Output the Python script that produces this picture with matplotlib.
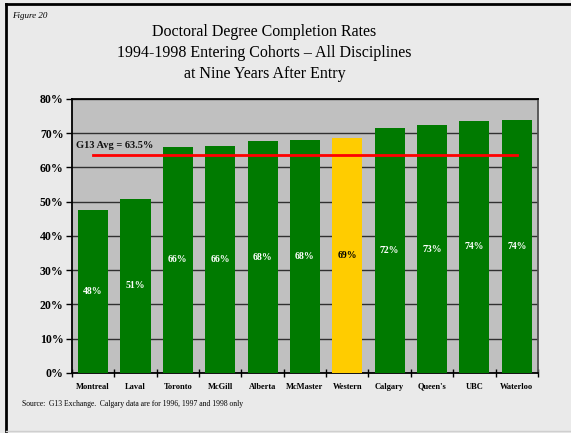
import matplotlib.pyplot as plt
import numpy as np
from matplotlib.lines import Line2D

schools = ['Montreal', 'Laval', 'Toronto', 'McGill', 'Alberta', 'McMaster',
           'Western', 'Calgary', "Queen's", 'UBC', 'Waterloo']
rates = [47.6, 50.8, 66.0, 66.3, 67.7, 68.0, 68.7, 71.5, 72.4, 73.6, 73.9]
labels = ['48%', '51%', '66%', '66%', '68%', '68%', '69%', '72%', '73%', '74%', '74%']
g13_avg = 63.5
highlight = 'Western'

plt.rcParams['font.family'] = ['Liberation Serif', 'DejaVu Serif']

fig = plt.figure(figsize=(5.71, 4.33), dpi=100, facecolor='#eaeaea')
ax = fig.add_axes([0.126, 0.1386, 0.816, 0.6328])
ax.set_facecolor('#c0c0c0')

x = np.arange(len(schools))
colors = ['#ffcc00' if s == highlight else '#007a00' for s in schools]
ax.bar(x, rates, width=0.71, color=colors, zorder=3)

# Gridlines
ax.set_ylim(0, 80)
ax.set_yticks(np.arange(0, 81, 10))
ax.set_yticklabels([f'{v}%' for v in range(0, 81, 10)], fontsize=8.5, fontweight='bold')
ax.yaxis.grid(True, color='#303030', linewidth=1.0, zorder=1)
ax.set_axisbelow(True)

ax.set_xlim(-0.5, len(schools) - 0.5)
ax.set_xticks(x)
ax.set_xticklabels(schools, fontsize=6, fontweight='bold')
ax.tick_params(axis='x', which='major', length=0, pad=7)
ax.set_xticks(np.arange(-0.5, len(schools)), minor=True)
ax.tick_params(axis='x', which='minor', length=6, direction='inout', width=1)
ax.tick_params(axis='y', length=4, width=1, direction='out', pad=2)

for sp in ['left', 'bottom', 'top']:
    ax.spines[sp].set_color('black')
    ax.spines[sp].set_linewidth(1.3)
ax.spines['right'].set_color('#505050')
ax.spines['right'].set_linewidth(1.3)

# Value labels in bar middles
for xi, r, lab, s in zip(x, rates, labels, schools):
    ax.text(xi, r / 2, lab, ha='center', va='center', fontsize=7, fontweight='bold',
            color='black' if s == highlight else 'white', zorder=4)

# G13 average line
ax.plot([x[0], x[-1]], [g13_avg, g13_avg], color='#ff0000', linewidth=2, zorder=5)
ax.text(-0.4, g13_avg + 1.6, 'G13 Avg = 63.5%', ha='left', va='bottom',
        fontsize=7.5, fontweight='bold', color='#111111', zorder=5)

# Titles
fig.text(0.463, 0.927, 'Doctoral Degree Completion Rates', ha='center', va='center', fontsize=11.5)
fig.text(0.463, 0.878, '1994-1998 Entering Cohorts \u2013 All Disciplines', ha='center', va='center', fontsize=11.5)
fig.text(0.463, 0.829, 'at Nine Years After Entry', ha='center', va='center', fontsize=11.5)
fig.text(0.021, 0.962, 'Figure 20', ha='left', va='center', fontsize=6.5, style='italic')
fig.text(0.038, 0.067, 'Source:  G13 Exchange.  Calgary data are for 1996, 1997 and 1998 only',
         ha='left', va='center', fontsize=5.5)

# Outer frame
fig.add_artist(Line2D([0.01, 1.0], [0.991, 0.991], color='black', linewidth=2, transform=fig.transFigure))
fig.add_artist(Line2D([0.01, 0.01], [0.991, 0.005], color='black', linewidth=2, transform=fig.transFigure))
fig.add_artist(Line2D([0.01, 1.0], [0.005, 0.005], color='#cfcfcf', linewidth=1, transform=fig.transFigure))

fig.savefig('out.png', dpi=100, facecolor=fig.get_facecolor())
